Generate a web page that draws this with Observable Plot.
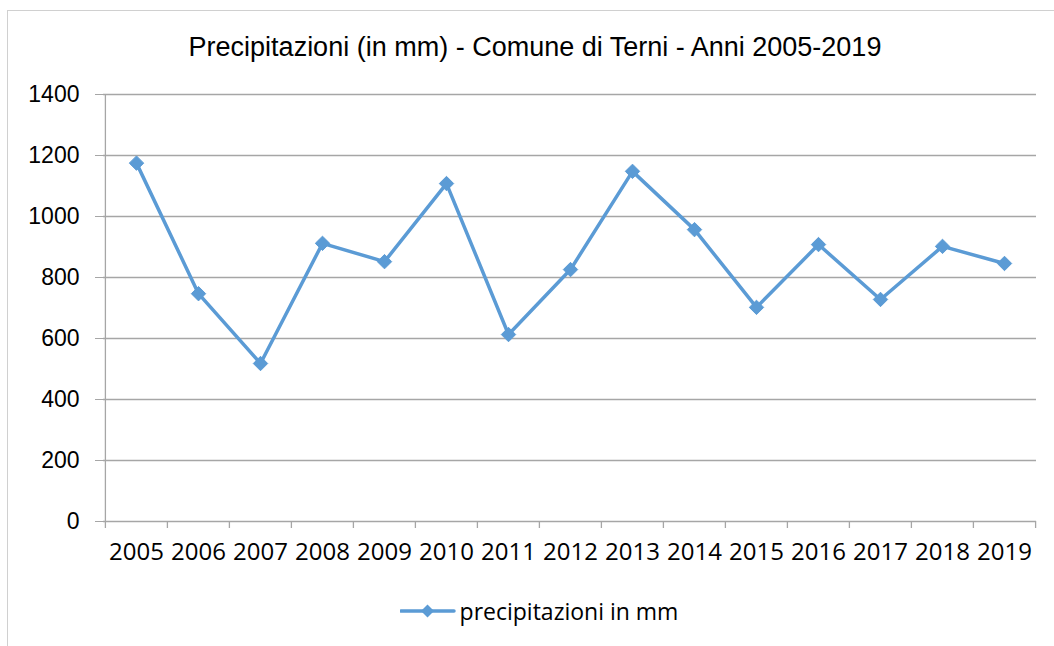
<!DOCTYPE html>
<html>
<head>
<meta charset="utf-8">
<script src="https://cdn.jsdelivr.net/npm/d3@7"></script>
<script src="https://cdn.jsdelivr.net/npm/@observablehq/plot@0.6"></script>
<style>
  html, body { margin: 0; padding: 0; background: #fff; }
  #chart { position: relative; width: 1054px; height: 646px; overflow: hidden; }
  #frame { position: absolute; left: 7px; top: 10px; right: -2px; bottom: -2px;
           border-left: 1px solid #d0d0d0; border-top: 1px solid #d0d0d0; pointer-events: none; }
  #title { height: 80px; box-sizing: border-box; padding-top: 32px; text-align: center;
           font-family: "Liberation Sans", Arial, sans-serif; font-size: 27px; line-height: 30px; color: #000; padding-left: 16px; }
  #plot svg { display: block; }
  #legend { height: 76px; box-sizing: border-box; padding-top: 5px; display: flex; justify-content: center;
            align-items: center; font-family: "Open Sans", Lato, sans-serif; font-size: 23px; color: #000; padding-left: 24px; }
  #legend svg { margin-right: 4px; }
</style>
</head>
<body>
<div id="chart">
  <div id="frame"></div>
  <div id="title">Precipitazioni (in mm) - Comune di Terni - Anni 2005-2019</div>
  <div id="plot"></div>
  <div id="legend"></div>
</div>
<script>
const years = ["2005","2006","2007","2008","2009","2010","2011","2012","2013","2014","2015","2016","2017","2018","2019"];
const precipitazioni = [1175, 747, 518, 912, 852, 1108, 613, 826, 1148, 957, 702, 908, 728, 902, 846];
const yTicks = [0, 200, 400, 600, 800, 1000, 1200, 1400];
const seriesName = "precipitazioni in mm";
const lineColor = "#5b9bd5";

const data = years.map((y, i) => ({year: y, value: precipitazioni[i]}));

const W = 1054, H = 490;
const mL = 103, mR = 18, mT = 14, mB = 49;
const bw = (W - mL - mR) / years.length;

const plot = Plot.plot({
  width: W,
  height: H,
  marginLeft: mL,
  marginRight: mR,
  marginTop: mT,
  marginBottom: mB,
  style: {fontFamily: "Liberation Sans, Arial, sans-serif", fontSize: "23px", color: "#000", background: "#fff", overflow: "visible"},
  x: {type: "band", domain: years, padding: 0, label: null},
  y: {domain: [0, 1400], label: null},
  marks: [
    Plot.gridY(yTicks, {stroke: "#a6a6a6", strokeOpacity: 1, strokeWidth: 1.3}),
    Plot.ruleX([years[0]], {dx: -bw / 2, stroke: "#a6a6a6", strokeWidth: 1.3}),
    Plot.axisY(yTicks, {label: null, tickSize: 8, tickPadding: 16, stroke: "#a6a6a6", tickFormat: d => String(d), fontSize: 23, fill: "#000", fontFamily: "Liberation Sans, Arial, sans-serif"}),
    Plot.axisX(years, {label: null, tickSize: 7, dx: -bw / 2, tickFormat: () => "", stroke: "#a6a6a6", strokeWidth: 1.3}),
    Plot.axisX([years[years.length - 1]], {label: null, tickSize: 7, dx: bw / 2, tickFormat: () => "", stroke: "#a6a6a6", strokeWidth: 1.3}),
    Plot.axisX(years, {label: null, tickSize: 0, tickPadding: 21, fontSize: 24, fill: "#000", fontFamily: "Open Sans, Lato, sans-serif"}),
    Plot.line(data, {x: "year", y: "value", stroke: lineColor, strokeWidth: 3.5}),
    Plot.dot(data, {x: "year", y: "value", symbol: "diamond2", r: 6.5, fill: lineColor, stroke: lineColor, strokeWidth: 1})
  ]
});
document.getElementById("plot").appendChild(plot);

const legend = document.getElementById("legend");
const ns = "http://www.w3.org/2000/svg";
const sw = document.createElementNS(ns, "svg");
sw.setAttribute("width", "56"); sw.setAttribute("height", "20");
const ln = document.createElementNS(ns, "line");
ln.setAttribute("x1", "1"); ln.setAttribute("x2", "54"); ln.setAttribute("y1", "10"); ln.setAttribute("y2", "10");
ln.setAttribute("stroke", lineColor); ln.setAttribute("stroke-width", "3.5"); ln.setAttribute("stroke-linecap", "round");
sw.appendChild(ln);
const dm = document.createElementNS(ns, "path");
dm.setAttribute("d", "M27.5,3.5 L34,10 L27.5,16.5 L21,10 Z");
dm.setAttribute("fill", lineColor);
sw.appendChild(dm);
legend.appendChild(sw);
const lt = document.createElement("span");
lt.textContent = seriesName;
legend.appendChild(lt);
</script>
</body>
</html>
